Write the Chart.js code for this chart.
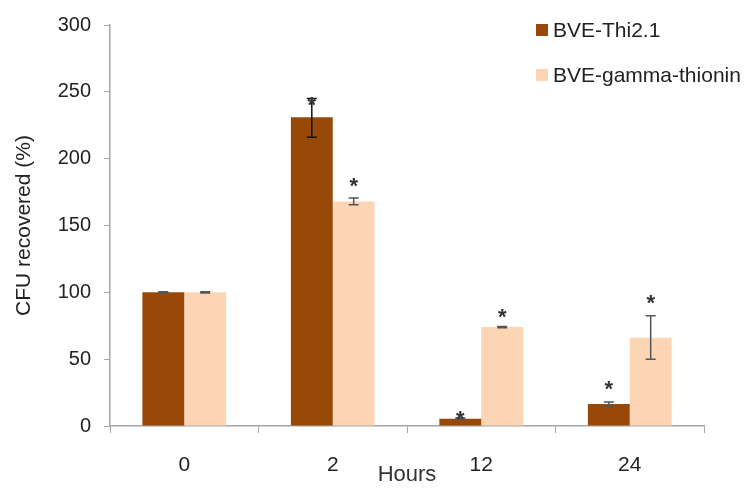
<!DOCTYPE html>
<html>
<head>
<meta charset="utf-8">
<script src="https://cdn.jsdelivr.net/npm/chart.js@4/dist/chart.umd.min.js"></script>
<style>
  html, body { margin: 0; padding: 0; background: #fff; }
  #wrap { width: 749px; height: 489px; }
</style>
</head>
<body>
<div id="wrap"><canvas id="c" width="749" height="489"></canvas></div>
<script>
// data
const hours = ["0", "2", "12", "24"];
const thiValues = [100, 231, 5.5, 16.5];
const thiLow = [99.5, 216, 5, 15];
const thiHigh = [100.5, 245, 6, 18];
const gammaValues = [100, 168, 74, 66];
const gammaLow = [99.5, 165.5, 73.5, 50];
const gammaHigh = [100.5, 170.5, 74.5, 82.5];
// where the asterisks sit (in % units), null = no mark
const thiStars = [null, 244.7, 9.8, 31.9];
const gammaStars = [null, 183.5, 86.2, 96.5];
const yTicks = [0, 50, 100, 150, 200, 250, 300];

const darkBrown = "#984807";
const peach = "#FCD5B5";
const fontFam = "'Liberation Sans', Arial, sans-serif";

// error bars + asterisks
const extrasPlugin = {
  id: "extras",
  afterDatasetsDraw(chart) {
    const ctx = chart.ctx;
    const y = chart.scales.y;
    const sets = [
      { low: thiLow, high: thiHigh, stars: thiStars },
      { low: gammaLow, high: gammaHigh, stars: gammaStars }
    ];
    ctx.save();
    sets.forEach((s, di) => {
      const meta = chart.getDatasetMeta(di);
      meta.data.forEach((bar, i) => {
        const x = bar.x;
        const yl = y.getPixelForValue(s.low[i]);
        const yh = y.getPixelForValue(s.high[i]);
        ctx.strokeStyle = (di === 0 && i === 1) ? "#111" : "#555";
        ctx.lineWidth = 1.5;
        ctx.beginPath();
        ctx.moveTo(x, yl); ctx.lineTo(x, yh);
        ctx.moveTo(x - 5, yl); ctx.lineTo(x + 5, yl);
        ctx.moveTo(x - 5, yh); ctx.lineTo(x + 5, yh);
        ctx.stroke();
        if (s.stars[i] != null) {
          const sy = y.getPixelForValue(s.stars[i]);
          ctx.fillStyle = "#333";
          ctx.font = "bold 22px " + fontFam;
          ctx.textAlign = "center";
          ctx.textBaseline = "alphabetic";
          ctx.fillText("*", x, sy + 22 * 0.58);
        }
      });
    });
    ctx.restore();
  }
};

// legend at the top right, like the original
const legendPlugin = {
  id: "sideLegend",
  afterDraw(chart) {
    const ctx = chart.ctx;
    const items = [
      { label: "BVE-Thi2.1", color: darkBrown, y: 30 },
      { label: "BVE-gamma-thionin", color: peach, y: 75 }
    ];
    ctx.save();
    ctx.font = "21px " + fontFam;
    ctx.textBaseline = "middle";
    ctx.textAlign = "left";
    items.forEach((it) => {
      ctx.fillStyle = it.color;
      ctx.fillRect(536, it.y - 6, 12, 12);
      ctx.fillStyle = "#222";
      ctx.fillText(it.label, 553, it.y + 1);
    });
    ctx.restore();
  }
};

new Chart(document.getElementById("c"), {
  type: "bar",
  data: {
    labels: hours,
    datasets: [
      {
        label: "BVE-Thi2.1",
        data: thiValues,
        backgroundColor: darkBrown,
        categoryPercentage: 0.564,
        barPercentage: 1.0
      },
      {
        label: "BVE-gamma-thionin",
        data: gammaValues,
        backgroundColor: peach,
        categoryPercentage: 0.564,
        barPercentage: 1.0
      }
    ]
  },
  options: {
    responsive: false,
    animation: false,
    layout: { padding: { top: 19, right: 45, bottom: 0, left: 0 } },
    plugins: {
      legend: { display: false },
      tooltip: { enabled: false }
    },
    scales: {
      x: {
        grid: {
          display: true,
          drawOnChartArea: false,
          color: "#a6a6a6",
          tickLength: 7,
          offset: true
        },
        border: { color: "#a6a6a6", width: 1.5 },
        ticks: {
          color: "#222",
          font: { family: fontFam, size: 21 },
          padding: 20
        },
        title: {
          display: true,
          text: "Hours",
          color: "#333",
          font: { family: fontFam, size: 22 },
          padding: { top: 0, bottom: 1 }
        },
        afterFit(scale) { scale.height = 63; }
      },
      y: {
        min: 0,
        max: 300,
        afterBuildTicks(scale) {
          scale.ticks = yTicks.map((v) => ({ value: v }));
        },
        grid: {
          display: true,
          drawOnChartArea: false,
          color: "#a6a6a6",
          tickLength: 6
        },
        border: { color: "#a6a6a6", width: 1.5 },
        ticks: {
          color: "#222",
          font: { family: fontFam, size: 20 },
          padding: 13
        },
        title: {
          display: true,
          text: "CFU recovered (%)",
          color: "#222",
          font: { family: fontFam, size: 21 },
          padding: { top: 12, bottom: 0 }
        },
        afterFit(scale) { scale.width = 110; }
      }
    }
  },
  plugins: [extrasPlugin, legendPlugin]
});
</script>
</body>
</html>
